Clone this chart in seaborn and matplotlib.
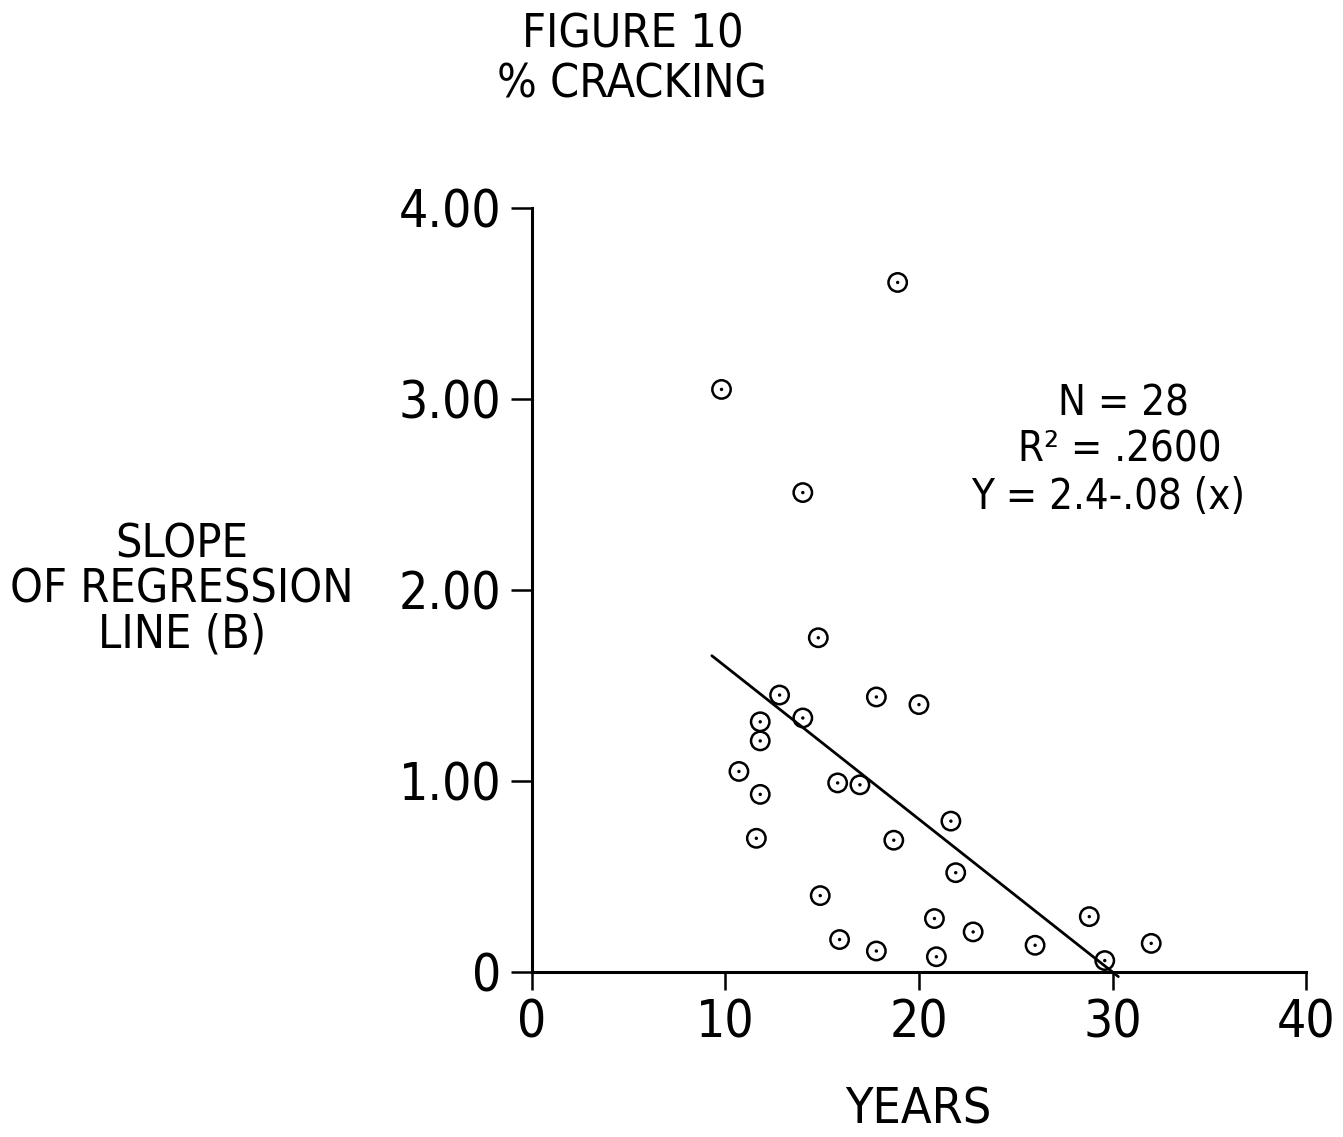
import numpy as np
import pandas as pd
import matplotlib
matplotlib.use("Agg")
import matplotlib.pyplot as plt
import seaborn as sns

# Years in service vs. slope of the % cracking regression line
years = [9.8, 18.9, 14.0, 14.8, 12.8, 14.0, 11.8, 11.8, 10.7, 11.8,
         11.6, 17.8, 20.0, 15.8, 16.95, 21.65, 18.7, 21.9, 14.9, 20.8,
         22.8, 15.9, 17.8, 20.9, 28.8, 26.0, 32.0, 29.6]
slopes = [3.05, 3.61, 2.51, 1.75, 1.45, 1.33, 1.31, 1.21, 1.05, 0.93,
          0.70, 1.44, 1.40, 0.99, 0.98, 0.79, 0.69, 0.52, 0.40, 0.28,
          0.21, 0.17, 0.11, 0.08, 0.29, 0.14, 0.15, 0.06]

# Fitted line Y = 2.4 - .08 (x)
intercept = 2.4
coef = -0.08
fit_range = [9.3, 30.3]

x_ticks = [0, 10, 20, 30, 40]
y_ticks = [0, 1, 2, 3, 4]
y_ticklabels = ["0", "1.00", "2.00", "3.00", "4.00"]

stats_lines = ["N = 28", "R² = .2600", "Y = 2.4-.08 (x)"]

sns.set_theme(style="ticks")
plt.rcParams["font.family"] = ["DejaVu Sans"]
plt.rcParams["font.stretch"] = "condensed"
plt.rcParams["text.color"] = "black"

fig = plt.figure(figsize=(13.43, 11.37), dpi=100)
ax = fig.add_axes([0.396, 0.1451, 0.5765, 0.672])

pts = pd.DataFrame({"years": years, "slope": slopes})
sns.scatterplot(data=pts, x="years", y="slope", ax=ax, s=175,
                facecolor="none", edgecolor="black", linewidth=1.8,
                clip_on=False, zorder=3)
sns.scatterplot(data=pts, x="years", y="slope", ax=ax, s=6,
                color="black", edgecolor="none", clip_on=False, zorder=4)

fx = np.array(fit_range)
fit = pd.DataFrame({"x": fx, "y": intercept + coef * fx})
sns.lineplot(data=fit, x="x", y="y", ax=ax, color="black", linewidth=2.0,
             clip_on=False, zorder=2)

ax.set_xlim(0, 40)
ax.set_ylim(0, 4)
sns.despine(ax=ax)
for side in ("left", "bottom"):
    ax.spines[side].set_linewidth(2.2)
    ax.spines[side].set_color("black")

ax.set_xticks(x_ticks)
ax.set_xticklabels([str(t) for t in x_ticks])
ax.set_yticks(y_ticks)
ax.set_yticklabels(y_ticklabels)
ax.tick_params(axis="x", length=13, width=1.8, direction="out",
               labelsize=37, pad=6, colors="black")
ax.tick_params(axis="y", length=15, width=1.8, direction="out",
               labelsize=37, pad=7, colors="black")
ax.set_xlabel("")
ax.set_ylabel("")

# Titles and labels
fig.text(633 / 1343, 1 - 35 / 1137, "FIGURE 10", ha="center", va="center",
         fontsize=33.5)
fig.text(632 / 1343, 1 - 85 / 1137, "% CRACKING", ha="center", va="center",
         fontsize=33.5)
fig.text(182 / 1343, 1 - 590 / 1137, "SLOPE\nOF REGRESSION\nLINE (B)",
         ha="center", va="center", fontsize=33.5, linespacing=1.0)
fig.text(918 / 1343, 1 - 1110 / 1137, "YEARS", ha="center", va="center",
         fontsize=36)

# Fit statistics, one line at a time
stats_centers = [(1123, 403), (1120, 450), (1108, 497)]
for line, (cx, cy) in zip(stats_lines, stats_centers):
    fig.text(cx / 1343, 1 - cy / 1137, line, ha="center", va="center",
             fontsize=30)

fig.savefig("out.png", dpi=100, facecolor="white")
